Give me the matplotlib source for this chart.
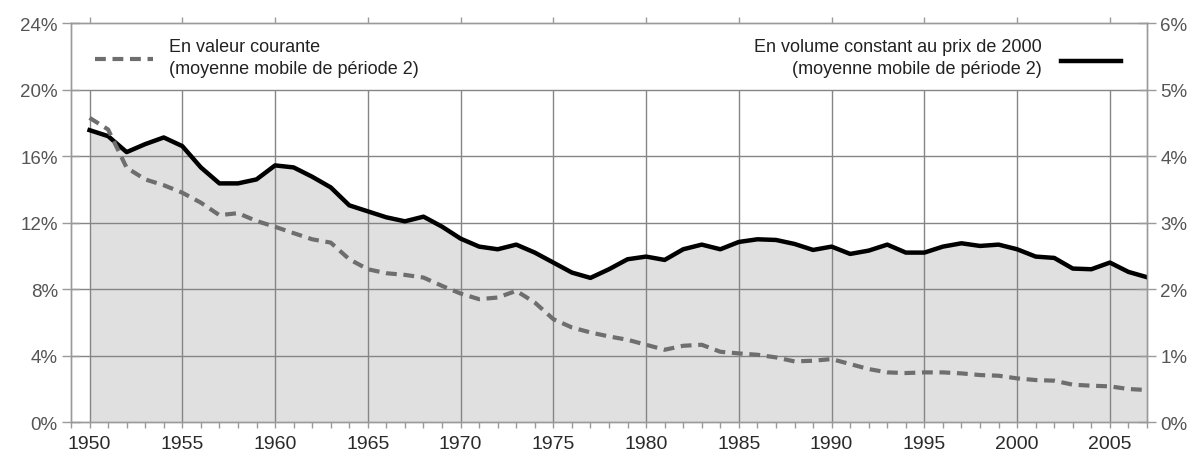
import numpy as np
import matplotlib.pyplot as plt
from matplotlib.lines import Line2D
from matplotlib.ticker import FuncFormatter, MultipleLocator

plt.rcParams['font.family'] = ['Liberation Sans', 'DejaVu Sans']

years = list(range(1950, 2008))

# en valeur courante, moyenne mobile 2 ans (axe de gauche, %)
valeur_courante = [18.3, 17.6, 15.3, 14.6, 14.25, 13.8, 13.2, 12.45, 12.57, 12.1,
                   11.75, 11.37, 11.0, 10.8, 9.8, 9.2, 8.96, 8.86, 8.7, 8.2,
                   7.74, 7.4, 7.5, 7.9, 7.2, 6.2, 5.7, 5.4, 5.16, 4.96,
                   4.66, 4.36, 4.6, 4.66, 4.24, 4.14, 4.06, 3.9, 3.66, 3.7,
                   3.8, 3.5, 3.2, 3.0, 2.96, 3.0, 3.0, 2.94, 2.84, 2.8,
                   2.64, 2.54, 2.5, 2.26, 2.2, 2.16, 2.0, 1.94]

# en volume constant au prix de 2000 (axe de droite, %)
volume_constant = [4.39, 4.30, 4.06, 4.18, 4.28, 4.15, 3.83, 3.59, 3.59, 3.65,
                   3.86, 3.83, 3.69, 3.53, 3.26, 3.17, 3.08, 3.02, 3.09, 2.94,
                   2.76, 2.64, 2.60, 2.67, 2.55, 2.40, 2.25, 2.17, 2.30, 2.45,
                   2.49, 2.44, 2.60, 2.67, 2.60, 2.71, 2.75, 2.74, 2.68, 2.59,
                   2.64, 2.53, 2.58, 2.67, 2.55, 2.55, 2.64, 2.69, 2.65, 2.67,
                   2.60, 2.49, 2.47, 2.31, 2.30, 2.40, 2.26, 2.18]

left_ticks = [0, 4, 8, 12, 16, 20, 24]
right_ticks = [0, 1, 2, 3, 4, 5, 6]
year_ticks = list(range(1950, 2006, 5))

legend_left = ['En valeur courante', '(moyenne mobile de période 2)']
legend_right = ['En volume constant au prix de 2000', '(moyenne mobile de période 2)']

W, H = 1195, 456
GRID = '#858585'
SPINE = '#9a9a9a'
FILL = '#e0e0e0'
DASH = '#6e6e6e'

fig = plt.figure(figsize=(W / 100, H / 100), dpi=100)
ax = fig.add_axes([71 / W, (H - 423.3) / H, (1147 - 71) / W, (423.3 - 24) / H])
ax2 = ax.twinx()

# right axis (volume) drawn underneath, left axis (dashed) on top
ax.set_zorder(ax2.get_zorder() + 1)
ax.patch.set_visible(False)

ax2.fill_between(years, volume_constant, 0, color=FILL, lw=0, zorder=0)
ax2.hlines([1, 2, 3, 4, 5], 1949, 2007, color=GRID, lw=1, zorder=1)
ax2.vlines(year_ticks, 0, 5, color=GRID, lw=1, zorder=1)
ax2.plot(years, volume_constant, color='black', lw=3.2, zorder=3,
         solid_joinstyle='round')

ax.plot(years, valeur_courante, color=DASH, lw=3.0, dashes=(2.6, 1.6), zorder=3)

ax.set_xlim(1949, 2007)
ax.set_ylim(0, 24)
ax2.set_ylim(0, 6)

for a in (ax, ax2):
    for s in a.spines.values():
        s.set_color(SPINE)
        s.set_linewidth(1)

ax.set_yticks(left_ticks)
ax.yaxis.set_major_formatter(FuncFormatter(lambda v, p: f'{v:.0f}%'))
ax2.set_yticks(right_ticks)
ax2.yaxis.set_major_formatter(FuncFormatter(lambda v, p: f'{v:.0f}%'))

ax.set_xticks(year_ticks)
ax.xaxis.set_minor_locator(MultipleLocator(1))
ax.tick_params(axis='y', direction='inout', length=13, width=1, color=SPINE,
               labelsize=13.5, labelcolor='#555555', pad=3)
ax2.tick_params(axis='y', direction='inout', length=13, width=1, color=SPINE,
                labelsize=13.5, labelcolor='#555555', pad=3)
# small ticks on the top frame every 5 years, yearly ticks underneath
ax.tick_params(axis='x', which='major', direction='out', length=4.5, width=1,
               color=SPINE, labelsize=14, labelcolor='#2a2a2a', pad=5,
               top=True)
ax.tick_params(axis='x', which='minor', direction='out', length=4.5, width=1,
               color=SPINE)
ax2.tick_params(axis='x', which='both', top=False, bottom=False)

# legend drawn by hand as in the original
fig.text(169 / W, 1 - 47 / H, legend_left[0], fontsize=13, color='#222222', va='center')
fig.text(169 / W, 1 - 70 / H, legend_left[1], fontsize=13, color='#222222', va='center')
fig.add_artist(Line2D([95 / W, 153 / W], [1 - 60 / H] * 2, color=DASH, lw=3.0,
                      dashes=(2.6, 1.6)))

fig.text(1042 / W, 1 - 47 / H, legend_right[0], fontsize=13, color='#222222',
         va='center', ha='right')
fig.text(1042 / W, 1 - 70 / H, legend_right[1], fontsize=13, color='#222222',
         va='center', ha='right')
fig.add_artist(Line2D([1061 / W, 1121 / W], [1 - 62 / H] * 2, color='black', lw=3.2))

fig.savefig('out.png', dpi=100, facecolor='white')
